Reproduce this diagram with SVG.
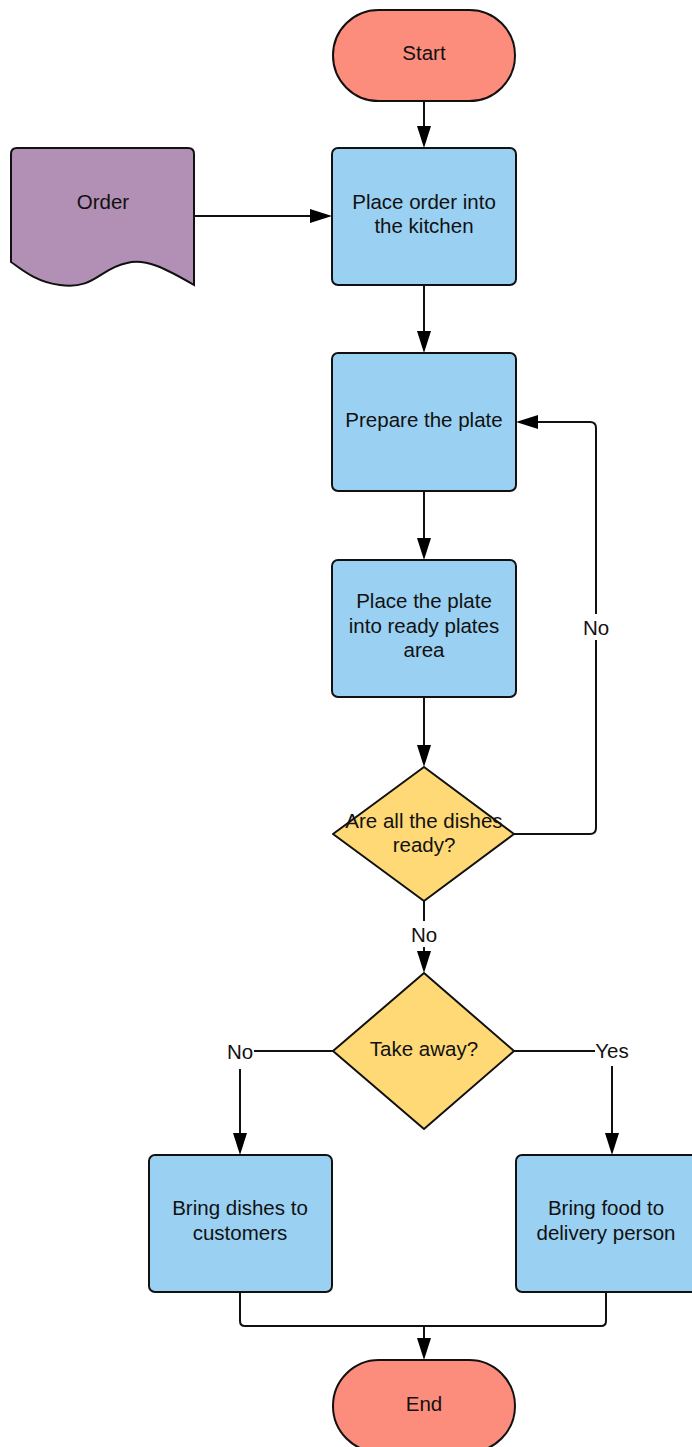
<svg xmlns="http://www.w3.org/2000/svg" width="692" height="1447" viewBox="0 0 692 1447">
  <defs>
    <marker id="arrow" markerWidth="22" markerHeight="14" refX="0" refY="7" orient="auto" markerUnits="userSpaceOnUse" viewBox="0 0 22 14">
      <path d="M0,0 L22,7 L0,14 Z" fill="#000"/>
    </marker>
    <style>
      .shape { stroke: #111; stroke-width: 2; }
      .term { fill: #fc8d7d; }
      .proc { fill: #9ad0f1; }
      .doc { fill: #b28fb4; }
      .dec { fill: #fed975; }
      .lbl { font-family: "Liberation Sans", Arial, sans-serif; font-size: 20.5px; fill: #111; text-anchor: middle; }
      .edge { fill: none; stroke: #111; stroke-width: 2; stroke-linejoin: round; }
      .elbl { font-family: "Liberation Sans", Arial, sans-serif; font-size: 20.5px; fill: #111; text-anchor: middle; }
      .bg { fill: #fff; }
    </style>
  </defs>

  <!-- connectors -->
  <g id="connectors">
    <path class="edge" d="M424,101 V126" marker-end="url(#arrow)"/>
    <path class="edge" d="M194,216 H310" marker-end="url(#arrow)"/>
    <path class="edge" d="M424,285 V331" marker-end="url(#arrow)"/>
    <path class="edge" d="M424,491 V538" marker-end="url(#arrow)"/>
    <path class="edge" d="M424,697 V745" marker-end="url(#arrow)"/>
    <!-- loop back from the first decision -->
    <path class="edge" d="M514,834 H590 Q596,834 596,828 V428 Q596,422 590,422 H538" marker-end="url(#arrow)"/>
    <rect class="bg" x="580" y="614" width="32" height="26"/>
    <text class="elbl" x="596" y="635">No</text>
    <path class="edge" d="M424,901 V951" marker-end="url(#arrow)"/>
    <rect class="bg" x="408" y="921" width="32" height="26"/>
    <text class="elbl" x="424" y="942">No</text>
    <!-- take-away branches -->
    <path class="edge" d="M333,1051 H254"/>
    <text class="elbl" x="240" y="1059">No</text>
    <path class="edge" d="M240,1069 V1133" marker-end="url(#arrow)"/>
    <path class="edge" d="M514,1051 H595"/>
    <text class="elbl" x="612" y="1058">Yes</text>
    <path class="edge" d="M612,1066 V1133" marker-end="url(#arrow)"/>
    <!-- merge into End -->
    <path class="edge" d="M240,1292 V1321 Q240,1326 245,1326 H601 Q606,1326 606,1321 V1292"/>
    <path class="edge" d="M424,1326 V1338" marker-end="url(#arrow)"/>
  </g>

  <g id="start">
    <rect class="shape term" x="333" y="10" width="182" height="91" rx="45.5" ry="45.5"/>
    <text class="lbl" x="424" y="60">Start</text>
  </g>

  <g id="order">
    <path class="shape doc" d="M11,154 Q11,148 17,148 H188 Q194,148 194,154 V285 C165,268 145,258 127,263 C100,268 95,290 60,285 C35,282 20,268 11,262 Z"/>
    <text class="lbl" x="103" y="209">Order</text>
  </g>

  <g id="place-order">
    <rect class="shape proc" x="332" y="148" width="184" height="137" rx="6" ry="6"/>
    <text class="lbl" x="424" y="209">Place order into</text>
    <text class="lbl" x="424" y="233">the kitchen</text>
  </g>

  <g id="prepare">
    <rect class="shape proc" x="332" y="353" width="184" height="138" rx="6" ry="6"/>
    <text class="lbl" x="424" y="427">Prepare the plate</text>
  </g>

  <g id="place-plate">
    <rect class="shape proc" x="332" y="560" width="184" height="137" rx="6" ry="6"/>
    <text class="lbl" x="424" y="608">Place the plate</text>
    <text class="lbl" x="424" y="633">into ready plates</text>
    <text class="lbl" x="424" y="657">area</text>
  </g>

  <g id="dishes-ready">
    <path class="shape dec" d="M424,767 L514,834 L424,901 L333,834 Z" stroke-linejoin="round"/>
    <text class="lbl" x="424" y="828">Are all the dishes</text>
    <text class="lbl" x="424" y="852">ready?</text>
  </g>

  <g id="take-away">
    <path class="shape dec" d="M424,973 L514,1051 L424,1129 L333,1051 Z" stroke-linejoin="round"/>
    <text class="lbl" x="424" y="1056">Take away?</text>
  </g>

  <g id="bring-dishes">
    <rect class="shape proc" x="149" y="1155" width="183" height="137" rx="6" ry="6"/>
    <text class="lbl" x="240" y="1215">Bring dishes to</text>
    <text class="lbl" x="240" y="1240">customers</text>
  </g>

  <g id="bring-food">
    <rect class="shape proc" x="516" y="1155" width="184" height="137" rx="6" ry="6"/>
    <text class="lbl" x="606" y="1215">Bring food to</text>
    <text class="lbl" x="606" y="1240">delivery person</text>
  </g>

  <g id="end">
    <rect class="shape term" x="333" y="1360" width="182" height="92" rx="46" ry="46"/>
    <text class="lbl" x="424" y="1411">End</text>
  </g>
</svg>
